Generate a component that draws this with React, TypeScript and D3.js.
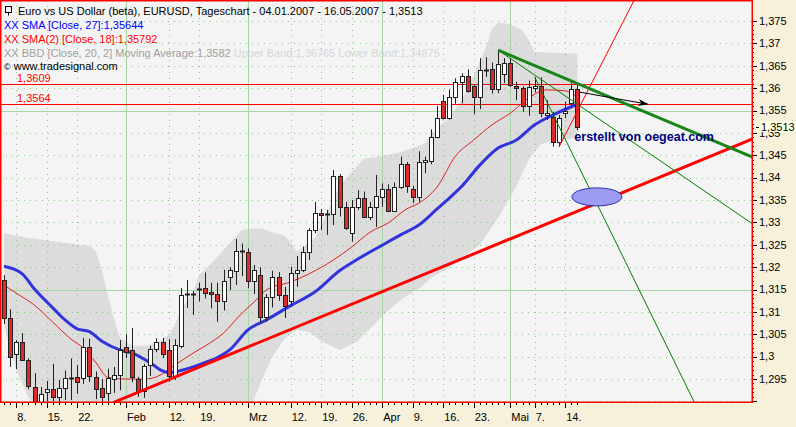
import React from "react";
import * as d3 from "d3";

// EURUSD daily, 04.01.2007 - 16.05.2007 (95 bars)
const open = [
  1.3171, 1.3086, 1.3006, 1.3032, 1.2992, 1.2933, 1.2893, 1.2922, 1.2928, 1.291,
  1.293, 1.2952, 1.2954, 1.2952, 1.3022, 1.2955, 1.293, 1.2919, 1.2951, 1.2959,
  1.3022, 1.3015, 1.2951, 1.2924, 1.2982, 1.3016, 1.3032, 1.3015, 1.2957, 1.3024,
  1.3138, 1.314, 1.315, 1.3153, 1.3144, 1.314, 1.3125, 1.3179, 1.3192, 1.3236,
  1.3233, 1.317, 1.3182, 1.3089, 1.3133, 1.3177, 1.3138, 1.3125, 1.3188, 1.3194,
  1.3234, 1.3283, 1.3321, 1.3318, 1.3319, 1.3404, 1.3335, 1.3276, 1.3334, 1.3354,
  1.3313, 1.3334, 1.3357, 1.3374, 1.3326, 1.3378, 1.343, 1.3374, 1.3356, 1.3434,
  1.3438, 1.3491, 1.3572, 1.3533, 1.358, 1.3614, 1.3627, 1.3605, 1.3581, 1.3641,
  1.3642, 1.3597, 1.3632, 1.3657, 1.3605, 1.36, 1.356, 1.36, 1.3605, 1.354,
  1.3536, 1.348, 1.3545, 1.3567, 1.3597,
];
const high = [
  1.3182, 1.3106, 1.3037, 1.3053, 1.2996, 1.2963, 1.2932, 1.2946, 1.2984, 1.2948,
  1.2969, 1.2996, 1.2981, 1.3042, 1.304, 1.2967, 1.295, 1.2973, 1.2977, 1.3037,
  1.305, 1.3064, 1.2955, 1.2984, 1.3024, 1.3041, 1.3042, 1.3039, 1.3039, 1.3153,
  1.3171, 1.3147, 1.3165, 1.3188, 1.3165, 1.3165, 1.3194, 1.32, 1.3263, 1.3253,
  1.3242, 1.3205, 1.32, 1.314, 1.3192, 1.3189, 1.3156, 1.3201, 1.3225, 1.3246,
  1.3287, 1.3346, 1.333, 1.3328, 1.3417, 1.3408, 1.3346, 1.335, 1.3372, 1.3369,
  1.3346, 1.3406, 1.3387, 1.3385, 1.3389, 1.3447, 1.3435, 1.3382, 1.3459, 1.3447,
  1.3508, 1.356, 1.3585, 1.3597, 1.3622, 1.3633, 1.3642, 1.3609, 1.3667, 1.3669,
  1.3657, 1.3685, 1.3667, 1.3667, 1.3614, 1.3604, 1.3617, 1.3625, 1.3624, 1.3573,
  1.3547, 1.354, 1.357, 1.3614, 1.3607,
];
const low = [
  1.3073, 1.2977, 1.2972, 1.299, 1.2927, 1.287, 1.288, 1.29, 1.29, 1.2899,
  1.2903, 1.2903, 1.2917, 1.2939, 1.2943, 1.2905, 1.29, 1.29, 1.2919, 1.2925,
  1.2997, 1.2943, 1.291, 1.2908, 1.2957, 1.301, 1.2997, 1.2944, 1.2948, 1.3019,
  1.3109, 1.3093, 1.3123, 1.313, 1.3108, 1.3078, 1.3103, 1.3149, 1.316, 1.318,
  1.3153, 1.314, 1.3076, 1.3078, 1.311, 1.3125, 1.3086, 1.3112, 1.3156, 1.3189,
  1.3216, 1.3276, 1.3283, 1.3272, 1.3294, 1.3313, 1.3283, 1.3257, 1.3328, 1.331,
  1.3305, 1.329, 1.3335, 1.3323, 1.3324, 1.3375, 1.3366, 1.3343, 1.3346, 1.341,
  1.343, 1.3488, 1.353, 1.353, 1.3565, 1.3566, 1.359, 1.3542, 1.3553, 1.3625,
  1.3588, 1.3589, 1.3611, 1.3603, 1.3573, 1.3547, 1.3538, 1.359, 1.3535, 1.3529,
  1.3469, 1.3469, 1.3533, 1.3564, 1.3506,
];
const close = [
  1.3086, 1.2999, 1.3032, 1.2992, 1.2934, 1.2885, 1.2917, 1.2927, 1.291, 1.293,
  1.2952, 1.2953, 1.2944, 1.3022, 1.2957, 1.2928, 1.291, 1.2952, 1.2959, 1.3015,
  1.301, 1.2955, 1.2924, 1.2978, 1.3017, 1.3032, 1.3005, 1.2957, 1.3026, 1.3138,
  1.3139, 1.3139, 1.3151, 1.3143, 1.3139, 1.3125, 1.3169, 1.3194, 1.3236, 1.3235,
  1.317, 1.3194, 1.3088, 1.3134, 1.3177, 1.3138, 1.3114, 1.3188, 1.3194, 1.3234,
  1.3283, 1.3321, 1.3317, 1.3319, 1.3404, 1.3335, 1.3287, 1.3334, 1.3354, 1.3313,
  1.3334, 1.3359, 1.3374, 1.3326, 1.3378, 1.343, 1.3382, 1.3356, 1.3434, 1.3439,
  1.3491, 1.3533, 1.3533, 1.358, 1.3614, 1.3627, 1.3594, 1.3581, 1.3641, 1.3639,
  1.3597, 1.3655, 1.3657, 1.3607, 1.36, 1.356, 1.3603, 1.3605, 1.3544, 1.3545,
  1.348, 1.3533, 1.355, 1.3597, 1.3513,
];

// indicator readings: [bar index, value]
const sma27: [number, number][] = [
  [0, 1.3202], [3, 1.3185], [5, 1.3151], [8, 1.3109], [10, 1.3082], [12, 1.3062],
  [14, 1.3056], [16, 1.3035], [19, 1.3015], [21, 1.3008], [24, 1.2986], [26, 1.2968],
  [27, 1.2964], [29, 1.2969], [31, 1.2977], [33, 1.2987], [35, 1.2998], [37, 1.3015],
  [40, 1.306], [43, 1.3082], [47, 1.3114], [51, 1.3145], [55, 1.3192], [58, 1.3218],
  [62, 1.3249], [65, 1.3272], [68, 1.3294], [71, 1.333], [73, 1.3354], [75, 1.338],
  [78, 1.3428], [81, 1.3466], [84, 1.3484], [87, 1.3518], [90, 1.354], [94, 1.3564],
];
const sma18: [number, number][] = [
  [0, 1.316], [2, 1.3142], [5, 1.3115], [8, 1.3077], [11, 1.3039], [13, 1.3019],
  [15, 1.2988], [17, 1.2954], [20, 1.295], [23, 1.295], [25, 1.2955], [28, 1.2981],
  [31, 1.3008], [33, 1.3024], [36, 1.3053], [39, 1.3097], [41, 1.3122], [43, 1.3149],
  [47, 1.3167], [50, 1.3185], [54, 1.3216], [57, 1.3245], [60, 1.3278], [63, 1.3299],
  [66, 1.333], [68, 1.3343], [71, 1.3379], [74, 1.3448], [77, 1.3484], [80, 1.3518],
  [83, 1.3544], [86, 1.3578], [89, 1.3596], [92, 1.3594], [94, 1.358],
];
const bbUpper: [number, number][] = [
  [0, 1.3276], [4, 1.3265], [9, 1.3256], [14, 1.3247], [15, 1.3236], [16, 1.3196],
  [17, 1.3138], [18, 1.3086], [19, 1.3042], [21, 1.3025], [23, 1.3024], [25, 1.303],
  [27, 1.3048], [28, 1.3071], [29, 1.3105], [31, 1.3144], [32, 1.3182], [35, 1.3223],
  [37, 1.3254], [39, 1.3283], [40, 1.3285], [42, 1.3287], [44, 1.3278], [46, 1.327],
  [47, 1.3256], [48, 1.3234], [51, 1.3265], [53, 1.3323], [55, 1.3381], [57, 1.3413],
  [59, 1.3442], [61, 1.3446], [63, 1.3451], [65, 1.3457], [67, 1.3466], [69, 1.3477],
  [71, 1.3511], [73, 1.3533], [75, 1.3573], [77, 1.3629], [79, 1.369], [80, 1.3734],
  [81, 1.3746], [83, 1.3743], [85, 1.3728], [86, 1.3708], [87, 1.3681], [94, 1.3677],
];
const bbLower: [number, number][] = [
  [0, 1.307], [2, 1.2972], [4, 1.2908], [7, 1.286], [12, 1.283], [20, 1.28],
  [30, 1.281], [38, 1.285], [40, 1.287], [42, 1.294], [44, 1.3], [46, 1.304],
  [48, 1.306], [50, 1.3055], [52, 1.3035], [55, 1.3015], [58, 1.3035], [62, 1.309],
  [65, 1.3127], [68, 1.3152], [70, 1.3175], [73, 1.32], [78, 1.325], [81, 1.331],
  [84, 1.338], [86, 1.344], [88, 1.3475], [91, 1.3485], [94, 1.3488],
];

// hand-drawn analysis objects: [bar index, price]
const redTrend: [number, number][] = [[18, 1.2898], [123, 1.3488]];
const redSteep: [number, number][] = [[91, 1.3469], [104, 1.3815]];
const greenTrend: [number, number][] = [[81, 1.3685], [123, 1.3444]];
const greenFanA: [number, number][] = [[81, 1.3685], [123, 1.3294]];
const greenFanB: [number, number][] = [[87, 1.3625], [114, 1.2875]];
const arrowPts: [number, number][] = [[94.4, 1.3591], [105.6, 1.3564]];
const ellipseAt: [number, number] = [97.2, 1.3357];
const noteAt: [number, number] = [93.5, 1.3482];
const hLevels = [1.3609, 1.3564];
const hLabels = ["1,3609", "1,3564"];

const tickIdx = [2, 7, 12, 20, 27, 32, 40, 47, 52, 57, 62, 67, 72, 77, 83, 87, 92];
const tickLabels = ["8.", "15.", "22.", "Feb", "12.", "19.", "Mrz", "12.", "19.", "26.", "Apr", "9.", "16.", "23.", "Mai", "7.", "14."];
const monthIdx = [20, 40, 62, 83];
const lastPrice = 1.3513;

const W = 796;
const H = 427;
const plotW = 752;
const plotH = 402;
const font = "'Liberation Sans', Arial, sans-serif";

const de = d3.formatLocale({ decimal: ",", thousands: ".", grouping: [3], currency: ["", ""] });
const fmt = de.format("~g");

const App = () => {
  const x = d3.scaleLinear().domain([0, 94]).range([4, 577.4]);
  const y = d3.scaleLinear().domain([1.29, 1.375]).range([401.4, 21]);
  const px = (i: number) => Math.round(x(i)) + 0.5;
  const py = (v: number) => Math.round(y(v)) + 0.5;

  const curve = d3
    .line<[number, number]>()
    .x((d) => x(d[0]))
    .y((d) => y(d[1]))
    .curve(d3.curveMonotoneX);
  const straight = d3
    .line<[number, number]>()
    .x((d) => x(d[0]))
    .y((d) => y(d[1]));
  const bandPath =
    straight([...bbUpper, ...bbLower.slice().reverse()]) + "Z";

  const majorY = d3.range(258, 276).map((k) => +(k * 0.005).toFixed(3));
  const minorY = d3.range(1290, 1376).map((k) => k / 1000);
  const solidY = [1.355, 1.315];

  // arrow head
  const [bx, by] = arrowPts[0];
  const [ax, ay] = arrowPts[1];
  const ang = Math.atan2(y(ay) - y(by), x(ax) - x(bx));
  const tipX = x(ax);
  const tipY = y(ay);
  const head = [
    [tipX, tipY],
    [tipX - 10 * Math.cos(ang) + 3.5 * Math.sin(ang), tipY - 10 * Math.sin(ang) - 3.5 * Math.cos(ang)],
    [tipX - 7 * Math.cos(ang), tipY - 7 * Math.sin(ang)],
    [tipX - 10 * Math.cos(ang) - 3.5 * Math.sin(ang), tipY - 10 * Math.sin(ang) + 3.5 * Math.cos(ang)],
  ]
    .map((p) => p.join(","))
    .join(" ");

  return (
    <svg
      width={W}
      height={H}
      style={{ position: "absolute", left: 0, top: 0, fontFamily: font }}
    >
      <defs>
        <clipPath id="plot">
          <rect x={0} y={0} width={plotW} height={plotH} />
        </clipPath>
        <clipPath id="lbl">
          <rect x={752} y={0} width={44} height={119} />
          <rect x={752} y={131} width={44} height={296} />
        </clipPath>
      </defs>
      <rect width={W} height={H} fill="#f7f1dc" />
      <rect width={plotW} height={plotH} fill="#f4f4f4" />

      <g clipPath="url(#plot)">
        <path d={bandPath} fill="#dcdcdc" />

        {/* grid */}
        {majorY
          .filter((v) => !solidY.includes(v))
          .map((v) => (
            <line key={"gy" + v} x1={0} x2={plotW} y1={py(v)} y2={py(v)} stroke="#8cc88c" strokeDasharray="1,5" />
          ))}
        {solidY.map((v) => (
          <line key={"sy" + v} x1={0} x2={plotW} y1={py(v)} y2={py(v)} stroke="#a6d6a6" />
        ))}
        {tickIdx
          .filter((i) => !monthIdx.includes(i))
          .map((i) => (
            <line key={"gx" + i} x1={px(i)} x2={px(i)} y1={0} y2={plotH} stroke="#8cc88c" strokeDasharray="1,5" />
          ))}
        {monthIdx.map((i) => (
          <line key={"mx" + i} x1={px(i)} x2={px(i)} y1={0} y2={plotH} stroke="#a6d6a6" />
        ))}

        {hLevels.map((v) => (
          <line key={"h" + v} x1={0} x2={plotW} y1={py(v)} y2={py(v)} stroke="#ff0000" />
        ))}

        <path d={curve(sma18) || ""} fill="none" stroke="#e02020" strokeWidth={1} />
        <path d={curve(sma27) || ""} fill="none" stroke="#3333dd" strokeWidth={3} />

        {/* candles */}
        {open.map((o, i) => {
          const c = close[i];
          const top = Math.round(y(Math.max(o, c)));
          const bot = Math.round(y(Math.min(o, c)));
          const cx = px(i);
          const up = c >= o;
          return (
            <g key={"c" + i}>
              <line x1={cx} x2={cx} y1={y(high[i])} y2={y(low[i])} stroke="#202020" />
              {bot - top < 2 ? (
                <line x1={cx - 2.5} x2={cx + 2.5} y1={top + 0.5} y2={top + 0.5} stroke="#202020" strokeWidth={2} />
              ) : (
                <rect
                  x={cx - 2}
                  y={top + 0.5}
                  width={4}
                  height={bot - top}
                  fill={up ? "#ffffff" : "#dd2a2a"}
                  stroke="#202020"
                />
              )}
            </g>
          );
        })}

        {/* drawings */}
        <path d={straight(redTrend) || ""} stroke="#ff0000" strokeWidth={3} fill="none" />
        <path d={straight(redSteep) || ""} stroke="#ff0000" strokeWidth={1} fill="none" />
        <path d={straight(greenFanA) || ""} stroke="#008000" strokeWidth={1} fill="none" />
        <path d={straight(greenFanB) || ""} stroke="#008000" strokeWidth={1} fill="none" />
        <path d={straight(greenTrend) || ""} stroke="#1a861a" strokeWidth={3} fill="none" />
        <path d={straight(arrowPts) || ""} stroke="#000000" strokeWidth={1} fill="none" />
        <polygon points={head} fill="#000000" />
        <ellipse cx={x(ellipseAt[0])} cy={y(ellipseAt[1])} rx={25} ry={9} fill="#9c9cf0" stroke="#2a2ab4" />
        <text x={x(noteAt[0])} y={y(noteAt[1])} fontSize={12.5} fontWeight="bold" fill="#000080">
          erstellt von oegeat.com
        </text>

        {hLevels.map((v, k) => (
          <text key={"hl" + v} x={17} y={y(v) - 2} fontSize={11} fill="#ff0000">
            {hLabels[k]}
          </text>
        ))}
      </g>

      <rect x={0.75} y={0.75} width={plotW - 0.5} height={plotH - 0.5} fill="none" stroke="#ff0000" strokeWidth={1.5} />

      {/* legend */}
      <g fontSize={11}>
        <rect x={5.5} y={6.5} width={6} height={6} fill="none" stroke="#000" />
        <line x1={8.5} x2={8.5} y1={12.5} y2={15.5} stroke="#000" />
        <text x={18} y={15} fill="#000">
          Euro vs US Dollar (beta), EURUSD, Tageschart - 04.01.2007 - 16.05.2007 - 1,3513
        </text>
        <text x={4} y={29} fill="#0000ff">XX SMA [Close, 27]:1,35644</text>
        <text x={4} y={43} fill="#ff0000">XX SMA(2) [Close, 18]:1,35792</text>
        <text x={4} y={57} fill="#a0a0a0">
          XX BBD [Close, 20, 2] Moving Average:1,3582
          <tspan fill="#d6d6d6"> Upper Band:1,36765 Lower Band:1,34875</tspan>
        </text>
        <text x={4} y={70} fill="#000">
          <tspan fontSize={9}>©</tspan> www.tradesignal.com
        </text>
      </g>

      {/* right axis */}
      <g fontSize={11}>
        {minorY.map((v) => (
          <line key={"mt" + v} x1={753} x2={754} y1={py(v)} y2={py(v)} stroke="#000" />
        ))}
        {majorY.map((v) => (
          <g key={"yt" + v}>
            <line x1={753} x2={757} y1={py(v)} y2={py(v)} stroke="#000" />
            {v >= 1.295 && (
              <text x={759} y={y(v)} dy="0.35em" fill="#000" clipPath="url(#lbl)">
                {fmt(v)}
              </text>
            )}
          </g>
        ))}
        <rect x={756} y={y(lastPrice) - 6} width={40} height={11} fill="#ffffe1" />
        <line x1={756} x2={759} y1={py(lastPrice)} y2={py(lastPrice)} stroke="#000" />
        <text x={761} y={y(lastPrice)} dy="0.35em" fill="#000">
          {fmt(lastPrice)}
        </text>
      </g>

      {/* bottom axis */}
      <g fontSize={11}>
        {open.map((_, i) => (
          <line key={"bt" + i} x1={px(i)} x2={px(i)} y1={403} y2={405} stroke="#000" />
        ))}
        {tickIdx.map((i, k) => (
          <g key={"xt" + i}>
            <line x1={px(i)} x2={px(i)} y1={403} y2={408} stroke="#000" />
            <text x={x(i) + 1} y={421} fill="#000">
              {tickLabels[k]}
            </text>
          </g>
        ))}
      </g>
    </svg>
  );
};

export default App;
